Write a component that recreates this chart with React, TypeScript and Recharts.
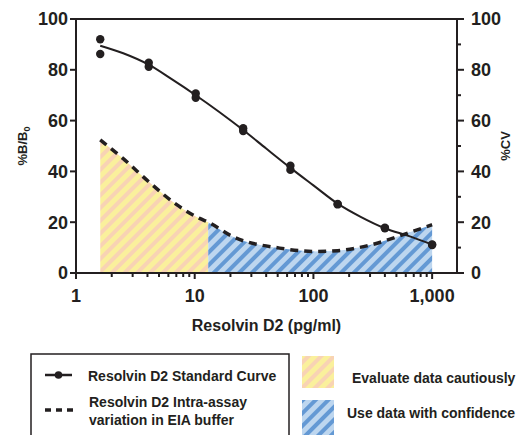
import React from 'react';
import { ComposedChart, Line, Area, Scatter, XAxis, YAxis, ReferenceLine } from 'recharts';

// Standard curve replicate points (pg/ml, %B/B0)
const stdX = [1.6, 1.6, 4.1, 4.1, 10.2, 10.2, 25.6, 25.6, 64, 64, 160, 160, 400, 400, 1000, 1000];
const stdY = [92, 86.2, 82.8, 81.2, 70.7, 69, 57, 55.9, 42.2, 40.6, 27.2, 27, 17.8, 17.6, 11, 11.2];
// Fitted standard curve
const fitX = [1.6, 2.5, 4.1, 6.4, 10.2, 16, 25.6, 40, 64, 100, 160, 250, 400, 640, 1000];
const fitY = [89.5, 86.5, 82, 76.3, 70, 63.5, 56.3, 49, 41.4, 34.5, 27.3, 22.1, 17.6, 14.5, 11.2];
// Intra-assay %CV curve
const cvX = [1.6, 2.5, 4.2, 7, 11, 13, 21, 52, 100, 160, 300, 650, 1000];
const cvY = [52.4, 45, 35.5, 27, 21.5, 20, 14.3, 9.8, 8.5, 8.8, 11, 16, 19];
const splitX = 13;

const xDecades = [1, 10, 100];
const xMultipliers = [1, 2, 3, 4, 5, 6, 7, 8, 9];
const xMajor = [1, 10, 100, 1000];
const xTickLabels = ['1', '10', '100', '1,000'];
const yTicksLeft = [0, 20, 40, 60, 80, 100];
const yTicksRight = [0, 10, 20, 30, 40, 50, 60, 70, 80, 90, 100];

const xTicks = [...xDecades.flatMap((d) => xMultipliers.map((m) => d * m)), 1000];
const stdData = stdX.map((x, i) => ({ x, y: stdY[i] }));
const fitData = fitX.map((x, i) => ({ x, y: fitY[i] }));
const cvData = cvX.map((x, i) => ({ x, y: cvY[i] }));
const yellowData = cvData.filter((d) => d.x <= splitX);
const blueData = cvData.filter((d) => d.x >= splitX);

const INK = '#231f20';
const FONT = '"Liberation Sans", Arial, Helvetica, sans-serif';

const Patterns = ({ suffix }: { suffix: string }) => (
  <defs>
    <pattern id={'yel' + suffix} patternUnits="userSpaceOnUse" width={9} height={9} patternTransform="rotate(45)">
      <rect x={0} y={0} width={9} height={9} fill="#faf09c" />
      <rect x={0} y={0} width={4} height={9} fill="#f8d3b4" />
    </pattern>
    <pattern id={'blu' + suffix} patternUnits="userSpaceOnUse" width={9} height={9} patternTransform="rotate(45)">
      <rect x={0} y={0} width={9} height={9} fill="#bdd6ef" />
      <rect x={0} y={0} width={4} height={9} fill="#6499d4" />
    </pattern>
  </defs>
);

const XTick = (props: any) => {
  const { x, y, payload } = props;
  const v = payload.value;
  const idx = xMajor.findIndex((m) => Math.abs(m - v) < 1e-6);
  const major = idx >= 0;
  return (
    <g>
      <line x1={x} x2={x} y1={y} y2={y + (major ? 6 : 4)} stroke={INK} strokeWidth={2} />
      {major && (
        <text x={x} y={y + 29} textAnchor="middle" fontSize={18} fontWeight="bold" fill={INK} fontFamily={FONT}>
          {xTickLabels[idx]}
        </text>
      )}
    </g>
  );
};

const RightTick = (props: any) => {
  const { x, y, payload } = props;
  const v = payload.value;
  const major = v % 20 === 0;
  return (
    <g>
      <line x1={x} x2={x + (major ? 7 : 4)} y1={y} y2={y} stroke={INK} strokeWidth={2} />
      {major && (
        <text x={x + 14} y={y} dy="0.355em" textAnchor="start" fontSize={18} fontWeight="bold" fill={INK} fontFamily={FONT}>
          {v}
        </text>
      )}
    </g>
  );
};

const LeftLabel = (props: any) => {
  const vb = props.viewBox;
  const cx = vb.x + 27;
  const cy = vb.y + vb.height / 2;
  return (
    <text x={cx} y={cy} transform={`rotate(-90, ${cx}, ${cy})`} textAnchor="middle" fontSize={13} fontWeight="bold" fill={INK} fontFamily={FONT}>
      %B/B<tspan fontSize={9} dy={3}>0</tspan>
    </text>
  );
};

const RightLabel = (props: any) => {
  const vb = props.viewBox;
  const cx = vb.x + 53;
  const cy = vb.y + vb.height / 2;
  return (
    <text x={cx} y={cy} transform={`rotate(-90, ${cx}, ${cy})`} textAnchor="middle" fontSize={13} fontWeight="bold" fill={INK} fontFamily={FONT}>
      %CV
    </text>
  );
};

const txt = { fontSize: 14, fontWeight: 'bold' as const, fill: INK, fontFamily: FONT };

export default function App() {
  return (
    <div style={{ position: 'absolute', left: 0, top: 0, width: 524, height: 435, overflow: 'hidden', background: '#fff' }}>
      <ComposedChart width={524} height={345} margin={{ top: 19, right: 0, bottom: 0, left: 0 }}>
        <Patterns suffix="c" />
        <XAxis
          dataKey="x"
          type="number"
          scale="log"
          domain={[1, 1620]}
          ticks={xTicks}
          allowDataOverflow
          height={72}
          tickSize={0}
          tickMargin={0}
          tickLine={false}
          axisLine={{ stroke: INK, strokeWidth: 2 }}
          tick={<XTick />}
          interval={0}
          label={{ value: 'Resolvin D2 (pg/ml)', position: 'insideBottom', offset: 14, fontSize: 16, fontWeight: 'bold', fill: INK, fontFamily: FONT }}
        />
        <YAxis
          yAxisId="left"
          dataKey="y"
          type="number"
          domain={[0, 100]}
          ticks={yTicksLeft}
          width={76}
          tickSize={6}
          tickMargin={2}
          tickLine={{ stroke: INK, strokeWidth: 2 }}
          axisLine={{ stroke: INK, strokeWidth: 2 }}
          tick={{ fontSize: 18, fontWeight: 'bold', fill: INK, fontFamily: FONT }}
          interval={0}
          label={{ content: <LeftLabel /> }}
        />
        <YAxis
          yAxisId="right"
          orientation="right"
          dataKey="y"
          type="number"
          domain={[0, 100]}
          ticks={yTicksRight}
          width={67}
          tickSize={0}
          tickMargin={0}
          tickLine={false}
          axisLine={{ stroke: INK, strokeWidth: 2 }}
          tick={<RightTick />}
          interval={0}
          label={{ content: <RightLabel /> }}
        />
        <ReferenceLine yAxisId="left" y={100} stroke={INK} strokeWidth={2} />
        <Area yAxisId="right" data={yellowData} dataKey="y" type="monotone" stroke="none" fill="url(#yelc)" fillOpacity={1} isAnimationActive={false} />
        <Area yAxisId="right" data={blueData} dataKey="y" type="monotone" stroke="none" fill="url(#bluc)" fillOpacity={1} isAnimationActive={false} />
        <Line yAxisId="right" data={cvData} dataKey="y" type="monotone" stroke={INK} strokeWidth={3.5} strokeDasharray="8 6" dot={false} isAnimationActive={false} />
        <Line yAxisId="left" data={fitData} dataKey="y" type="monotone" stroke={INK} strokeWidth={2} dot={false} isAnimationActive={false} />
        <Scatter yAxisId="left" data={stdData} dataKey="y" fill={INK} shape={(p: any) => <circle cx={p.cx} cy={p.cy} r={4.2} fill={INK} />} isAnimationActive={false} />
      </ComposedChart>
      <svg width={524} height={435} style={{ position: 'absolute', left: 0, top: 0 }}>
        <Patterns suffix="l" />
        <rect x={31} y={354} width={258} height={120} fill="none" stroke={INK} strokeWidth={1.5} />
        <line x1={45} x2={72} y1={375} y2={375} stroke={INK} strokeWidth={2.5} />
        <circle cx={58.5} cy={375} r={3.8} fill={INK} />
        <text x={88} y={381} {...txt}>Resolvin D2 Standard Curve</text>
        <line x1={45} x2={74} y1={410} y2={410} stroke={INK} strokeWidth={3.5} strokeDasharray="6 5" />
        <text x={89} y={407} {...txt}>Resolvin D2 Intra-assay</text>
        <text x={89} y={425} {...txt}>variation in EIA buffer</text>
        <rect x={302} y={356} width={32} height={32} fill="url(#yell)" />
        <text x={352} y={383} {...txt}>Evaluate data cautiously</text>
        <rect x={302} y={400} width={32} height={40} fill="url(#blul)" />
        <text x={347} y={418} {...txt}>Use data with confidence</text>
      </svg>
    </div>
  );
}
